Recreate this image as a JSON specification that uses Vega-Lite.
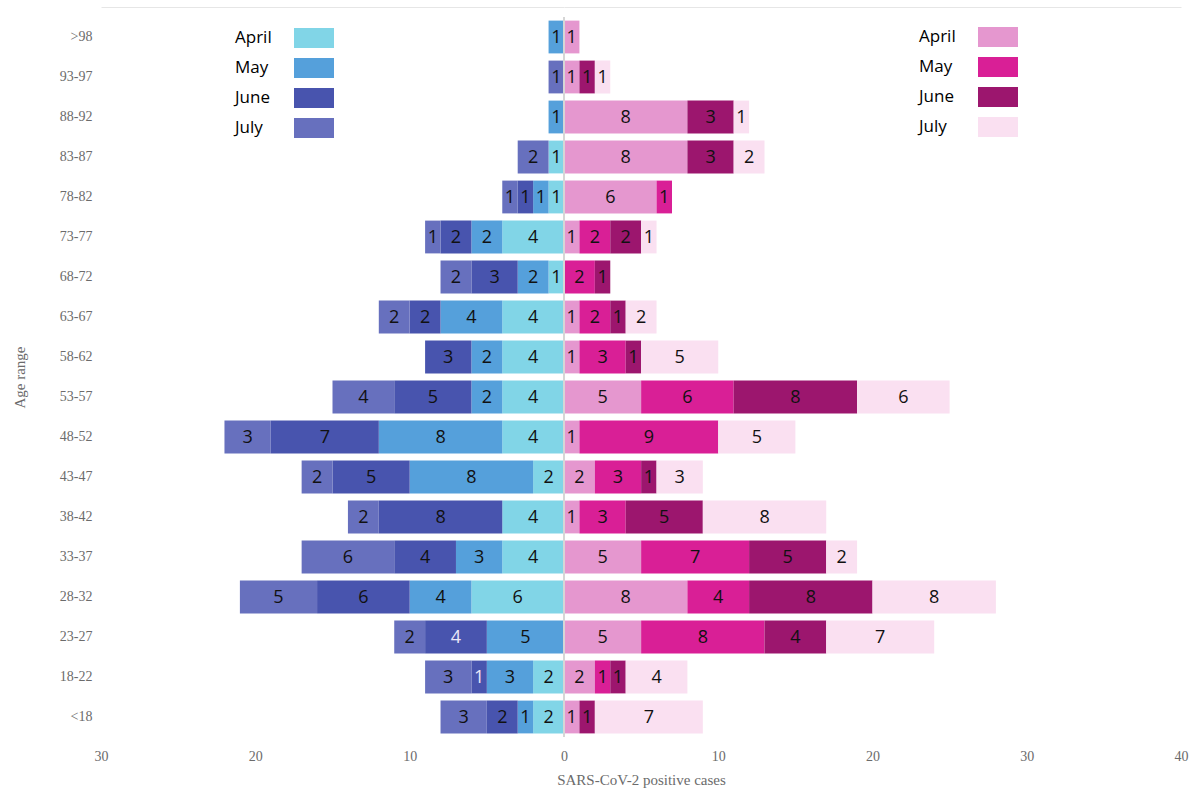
{
  "$schema": "https://vega.github.io/schema/vega-lite/v6.json",
  "background": "white",
  "padding": {"left": 12, "top": 7, "right": 10, "bottom": 5},
  "spacing": 0,
  "bounds": "flush",
  "config": {
    "view": {"stroke": null},
    "axis": {"labelFont": "Liberation Serif", "titleFont": "Liberation Serif", "labelColor": "#6b6b6b", "titleColor": "#6b6b6b", "labelFontSize": 14, "titleFontSize": 15, "titleFontWeight": "normal", "ticks": false, "domain": false, "grid": false, "labelFlush": false},
    "legend": {"orient": "none", "title": null, "symbolType": "M-2,-1H2V1H-2Z", "symbolSize": 400, "symbolStrokeWidth": 0, "symbolOffset": 0, "labelOffset": -89, "labelFont": "Open Sans", "labelFontSize": 17, "labelColor": "#000000", "rowPadding": 10, "padding": 0, "symbolOpacity": 1}
  },
  "datasets": {
    "left": [
      {"age": ">98", "month": "May", "m": 2, "cases": 1},
      {"age": "93-97", "month": "July", "m": 4, "cases": 1},
      {"age": "88-92", "month": "May", "m": 2, "cases": 1},
      {"age": "83-87", "month": "April", "m": 1, "cases": 1},
      {"age": "83-87", "month": "July", "m": 4, "cases": 2},
      {"age": "78-82", "month": "April", "m": 1, "cases": 1},
      {"age": "78-82", "month": "May", "m": 2, "cases": 1},
      {"age": "78-82", "month": "June", "m": 3, "cases": 1},
      {"age": "78-82", "month": "July", "m": 4, "cases": 1},
      {"age": "73-77", "month": "April", "m": 1, "cases": 4},
      {"age": "73-77", "month": "May", "m": 2, "cases": 2},
      {"age": "73-77", "month": "June", "m": 3, "cases": 2},
      {"age": "73-77", "month": "July", "m": 4, "cases": 1},
      {"age": "68-72", "month": "April", "m": 1, "cases": 1},
      {"age": "68-72", "month": "May", "m": 2, "cases": 2},
      {"age": "68-72", "month": "June", "m": 3, "cases": 3},
      {"age": "68-72", "month": "July", "m": 4, "cases": 2},
      {"age": "63-67", "month": "April", "m": 1, "cases": 4},
      {"age": "63-67", "month": "May", "m": 2, "cases": 4},
      {"age": "63-67", "month": "June", "m": 3, "cases": 2},
      {"age": "63-67", "month": "July", "m": 4, "cases": 2},
      {"age": "58-62", "month": "April", "m": 1, "cases": 4},
      {"age": "58-62", "month": "May", "m": 2, "cases": 2},
      {"age": "58-62", "month": "June", "m": 3, "cases": 3},
      {"age": "53-57", "month": "April", "m": 1, "cases": 4},
      {"age": "53-57", "month": "May", "m": 2, "cases": 2},
      {"age": "53-57", "month": "June", "m": 3, "cases": 5},
      {"age": "53-57", "month": "July", "m": 4, "cases": 4},
      {"age": "48-52", "month": "April", "m": 1, "cases": 4},
      {"age": "48-52", "month": "May", "m": 2, "cases": 8},
      {"age": "48-52", "month": "June", "m": 3, "cases": 7},
      {"age": "48-52", "month": "July", "m": 4, "cases": 3},
      {"age": "43-47", "month": "April", "m": 1, "cases": 2},
      {"age": "43-47", "month": "May", "m": 2, "cases": 8},
      {"age": "43-47", "month": "June", "m": 3, "cases": 5},
      {"age": "43-47", "month": "July", "m": 4, "cases": 2},
      {"age": "38-42", "month": "April", "m": 1, "cases": 4},
      {"age": "38-42", "month": "June", "m": 3, "cases": 8},
      {"age": "38-42", "month": "July", "m": 4, "cases": 2},
      {"age": "33-37", "month": "April", "m": 1, "cases": 4},
      {"age": "33-37", "month": "May", "m": 2, "cases": 3},
      {"age": "33-37", "month": "June", "m": 3, "cases": 4},
      {"age": "33-37", "month": "July", "m": 4, "cases": 6},
      {"age": "28-32", "month": "April", "m": 1, "cases": 6},
      {"age": "28-32", "month": "May", "m": 2, "cases": 4},
      {"age": "28-32", "month": "June", "m": 3, "cases": 6},
      {"age": "28-32", "month": "July", "m": 4, "cases": 5},
      {"age": "23-27", "month": "May", "m": 2, "cases": 5},
      {"age": "23-27", "month": "June", "m": 3, "cases": 4},
      {"age": "23-27", "month": "July", "m": 4, "cases": 2},
      {"age": "18-22", "month": "April", "m": 1, "cases": 2},
      {"age": "18-22", "month": "May", "m": 2, "cases": 3},
      {"age": "18-22", "month": "June", "m": 3, "cases": 1},
      {"age": "18-22", "month": "July", "m": 4, "cases": 3},
      {"age": "<18", "month": "April", "m": 1, "cases": 2},
      {"age": "<18", "month": "May", "m": 2, "cases": 1},
      {"age": "<18", "month": "June", "m": 3, "cases": 2},
      {"age": "<18", "month": "July", "m": 4, "cases": 3}
    ],
    "right": [
      {"age": ">98", "month": "April", "m": 1, "cases": 1},
      {"age": "93-97", "month": "April", "m": 1, "cases": 1},
      {"age": "93-97", "month": "June", "m": 3, "cases": 1},
      {"age": "93-97", "month": "July", "m": 4, "cases": 1},
      {"age": "88-92", "month": "April", "m": 1, "cases": 8},
      {"age": "88-92", "month": "June", "m": 3, "cases": 3},
      {"age": "88-92", "month": "July", "m": 4, "cases": 1},
      {"age": "83-87", "month": "April", "m": 1, "cases": 8},
      {"age": "83-87", "month": "June", "m": 3, "cases": 3},
      {"age": "83-87", "month": "July", "m": 4, "cases": 2},
      {"age": "78-82", "month": "April", "m": 1, "cases": 6},
      {"age": "78-82", "month": "May", "m": 2, "cases": 1},
      {"age": "73-77", "month": "April", "m": 1, "cases": 1},
      {"age": "73-77", "month": "May", "m": 2, "cases": 2},
      {"age": "73-77", "month": "June", "m": 3, "cases": 2},
      {"age": "73-77", "month": "July", "m": 4, "cases": 1},
      {"age": "68-72", "month": "May", "m": 2, "cases": 2},
      {"age": "68-72", "month": "June", "m": 3, "cases": 1},
      {"age": "63-67", "month": "April", "m": 1, "cases": 1},
      {"age": "63-67", "month": "May", "m": 2, "cases": 2},
      {"age": "63-67", "month": "June", "m": 3, "cases": 1},
      {"age": "63-67", "month": "July", "m": 4, "cases": 2},
      {"age": "58-62", "month": "April", "m": 1, "cases": 1},
      {"age": "58-62", "month": "May", "m": 2, "cases": 3},
      {"age": "58-62", "month": "June", "m": 3, "cases": 1},
      {"age": "58-62", "month": "July", "m": 4, "cases": 5},
      {"age": "53-57", "month": "April", "m": 1, "cases": 5},
      {"age": "53-57", "month": "May", "m": 2, "cases": 6},
      {"age": "53-57", "month": "June", "m": 3, "cases": 8},
      {"age": "53-57", "month": "July", "m": 4, "cases": 6},
      {"age": "48-52", "month": "April", "m": 1, "cases": 1},
      {"age": "48-52", "month": "May", "m": 2, "cases": 9},
      {"age": "48-52", "month": "July", "m": 4, "cases": 5},
      {"age": "43-47", "month": "April", "m": 1, "cases": 2},
      {"age": "43-47", "month": "May", "m": 2, "cases": 3},
      {"age": "43-47", "month": "June", "m": 3, "cases": 1},
      {"age": "43-47", "month": "July", "m": 4, "cases": 3},
      {"age": "38-42", "month": "April", "m": 1, "cases": 1},
      {"age": "38-42", "month": "May", "m": 2, "cases": 3},
      {"age": "38-42", "month": "June", "m": 3, "cases": 5},
      {"age": "38-42", "month": "July", "m": 4, "cases": 8},
      {"age": "33-37", "month": "April", "m": 1, "cases": 5},
      {"age": "33-37", "month": "May", "m": 2, "cases": 7},
      {"age": "33-37", "month": "June", "m": 3, "cases": 5},
      {"age": "33-37", "month": "July", "m": 4, "cases": 2},
      {"age": "28-32", "month": "April", "m": 1, "cases": 8},
      {"age": "28-32", "month": "May", "m": 2, "cases": 4},
      {"age": "28-32", "month": "June", "m": 3, "cases": 8},
      {"age": "28-32", "month": "July", "m": 4, "cases": 8},
      {"age": "23-27", "month": "April", "m": 1, "cases": 5},
      {"age": "23-27", "month": "May", "m": 2, "cases": 8},
      {"age": "23-27", "month": "June", "m": 3, "cases": 4},
      {"age": "23-27", "month": "July", "m": 4, "cases": 7},
      {"age": "18-22", "month": "April", "m": 1, "cases": 2},
      {"age": "18-22", "month": "May", "m": 2, "cases": 1},
      {"age": "18-22", "month": "June", "m": 3, "cases": 1},
      {"age": "18-22", "month": "July", "m": 4, "cases": 4},
      {"age": "<18", "month": "April", "m": 1, "cases": 1},
      {"age": "<18", "month": "June", "m": 3, "cases": 1},
      {"age": "<18", "month": "July", "m": 4, "cases": 7}
    ]
  },
  "hconcat": [
    {
      "width": 463,
      "height": 720,
      "data": {"name": "left"},
      "layer": [
        {
          "mark": {"type": "bar"},
          "encoding": {
            "y": {"field": "age", "type": "nominal", "sort": [">98", "93-97", "88-92", "83-87", "78-82", "73-77", "68-72", "63-67", "58-62", "53-57", "48-52", "43-47", "38-42", "33-37", "28-32", "23-27", "18-22", "<18"], "scale": {"paddingInner": 0.18, "paddingOuter": 0.09}, "axis": {"title": "Age range", "labelPadding": 9, "minExtent": 70, "maxExtent": 70, "titlePadding": 4}},
            "x": {"field": "cases", "type": "quantitative", "stack": "zero", "scale": {"domain": [0, 30], "reverse": true, "nice": false}, "axis": {"values": [10, 20, 30], "title": null, "labelPadding": 12}},
            "color": {"field": "month", "type": "nominal", "scale": {"domain": ["April", "May", "June", "July"], "range": ["#81d5e7", "#55a0db", "#4854ae", "#6770be"]}, "legend": {"legendX": 203, "legendY": 11}},
            "order": {"field": "m", "type": "quantitative"}
          }
        },
        {
          "mark": {"type": "text", "font": "Open Sans", "fontSize": 18, "baseline": "middle", "dy": 1},
          "encoding": {
            "y": {"field": "age", "type": "nominal", "sort": [">98", "93-97", "88-92", "83-87", "78-82", "73-77", "68-72", "63-67", "58-62", "53-57", "48-52", "43-47", "38-42", "33-37", "28-32", "23-27", "18-22", "<18"]},
            "x": {"field": "cases", "type": "quantitative", "stack": "zero", "bandPosition": 0.5, "axis": {"orient": "top", "labels": false, "title": null, "domain": true, "domainColor": "#e6e6e6", "offset": 10}},
            "detail": {"field": "month"},
            "order": {"field": "m", "type": "quantitative"},
            "text": {"field": "cases", "type": "quantitative"},
            "color": {"condition": {"test": "datum.month === 'June' && (datum.age === '23-27' || datum.age === '18-22')", "value": "#ebe6f7"}, "value": "#111111"}
          }
        }
      ],
      "resolve": {"axis": {"x": "independent"}}
    },
    {
      "width": 617,
      "height": 720,
      "data": {"name": "right"},
      "layer": [
        {
          "mark": {"type": "bar"},
          "encoding": {
            "y": {"field": "age", "type": "nominal", "sort": [">98", "93-97", "88-92", "83-87", "78-82", "73-77", "68-72", "63-67", "58-62", "53-57", "48-52", "43-47", "38-42", "33-37", "28-32", "23-27", "18-22", "<18"], "scale": {"paddingInner": 0.18, "paddingOuter": 0.09}, "axis": null},
            "x": {"field": "cases", "type": "quantitative", "stack": "zero", "scale": {"domain": [0, 40], "nice": false}, "axis": {"values": [0, 10, 20, 30, 40], "title": "SARS-CoV-2 positive cases", "titleX": 77, "labelPadding": 12, "titlePadding": 9}},
            "color": {"field": "month", "type": "nominal", "scale": {"domain": ["April", "May", "June", "July"], "range": ["#e597cf", "#d91f96", "#9c166e", "#fae0f1"]}, "legend": {"legendX": 424, "legendY": 10}},
            "order": {"field": "m", "type": "quantitative"}
          }
        },
        {
          "mark": {"type": "text", "font": "Open Sans", "fontSize": 18, "baseline": "middle", "dy": 1, "color": "#111111"},
          "encoding": {
            "y": {"field": "age", "type": "nominal", "sort": [">98", "93-97", "88-92", "83-87", "78-82", "73-77", "68-72", "63-67", "58-62", "53-57", "48-52", "43-47", "38-42", "33-37", "28-32", "23-27", "18-22", "<18"]},
            "x": {"field": "cases", "type": "quantitative", "stack": "zero", "bandPosition": 0.5, "axis": {"orient": "top", "labels": false, "title": null, "domain": true, "domainColor": "#e6e6e6", "offset": 10}},
            "detail": {"field": "month"},
            "order": {"field": "m", "type": "quantitative"},
            "text": {"field": "cases", "type": "quantitative"}
          }
        },
        {
          "mark": {"type": "rule", "color": "#d6d6d6", "strokeWidth": 1.5},
          "encoding": {"x": {"datum": 0, "axis": null}}
        }
      ],
      "resolve": {"axis": {"x": "independent"}}
    }
  ],
  "resolve": {"scale": {"color": "independent"}}
}
